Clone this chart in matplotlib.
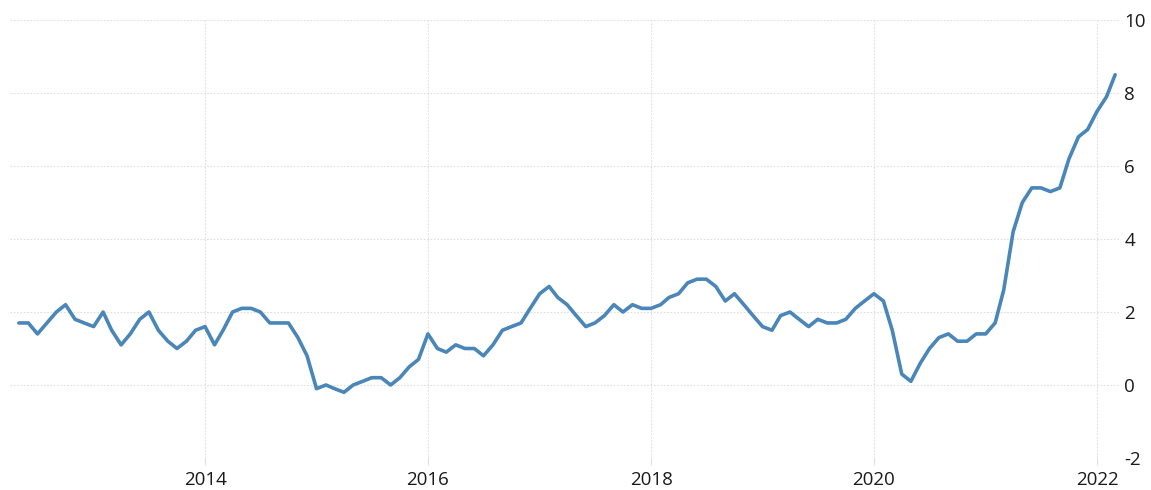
import matplotlib
matplotlib.use("Agg")
import matplotlib.pyplot as plt
import pandas as pd

start_month = "2012-05-01"
values = [
    1.7, 1.7, 1.4, 1.7, 2.0, 2.2, 1.8, 1.7,            # 2012 May-Dec
    1.6, 2.0, 1.5, 1.1, 1.4, 1.8, 2.0, 1.5, 1.2, 1.0, 1.2, 1.5,   # 2013
    1.6, 1.1, 1.5, 2.0, 2.1, 2.1, 2.0, 1.7, 1.7, 1.7, 1.3, 0.8,   # 2014
    -0.1, 0.0, -0.1, -0.2, 0.0, 0.1, 0.2, 0.2, 0.0, 0.2, 0.5, 0.7,  # 2015
    1.4, 1.0, 0.9, 1.1, 1.0, 1.0, 0.8, 1.1, 1.5, 1.6, 1.7, 2.1,   # 2016
    2.5, 2.7, 2.4, 2.2, 1.9, 1.6, 1.7, 1.9, 2.2, 2.0, 2.2, 2.1,   # 2017
    2.1, 2.2, 2.4, 2.5, 2.8, 2.9, 2.9, 2.7, 2.3, 2.5, 2.2, 1.9,   # 2018
    1.6, 1.5, 1.9, 2.0, 1.8, 1.6, 1.8, 1.7, 1.7, 1.8, 2.1, 2.3,   # 2019
    2.5, 2.3, 1.5, 0.3, 0.1, 0.6, 1.0, 1.3, 1.4, 1.2, 1.2, 1.4,   # 2020
    1.4, 1.7, 2.6, 4.2, 5.0, 5.4, 5.4, 5.3, 5.4, 6.2, 6.8, 7.0,   # 2021
    7.5, 7.9, 8.5,                                       # 2022 Jan-Mar
]
dates = pd.date_range(start_month, periods=len(values), freq="MS")
year_ticks = [2014, 2016, 2018, 2020, 2022]
y_ticks = [-2, 0, 2, 4, 6, 8, 10]

plt.rcParams["font.family"] = ["Open Sans", "DejaVu Sans"]

W, H = 1151, 490
fig = plt.figure(figsize=(W / 100, H / 100), dpi=100)
ax = fig.add_axes([10 / W, 1 - 458 / H, (1120 - 10) / W, (458 - 20) / H])

ax.plot(dates, values, color="#4a86b8", linewidth=2.6,
        solid_joinstyle="round", solid_capstyle="round", zorder=3)

ax.set_ylim(-2, 10)
ax.set_xlim(pd.Timestamp("2012-04-02"), pd.Timestamp("2022-03-17"))
ax.set_yticks(y_ticks)
ax.set_yticklabels([str(v) for v in y_ticks])
ax.set_xticks([pd.Timestamp(f"{y}-01-01") for y in year_ticks])
ax.set_xticklabels([str(y) for y in year_ticks])

ax.yaxis.tick_right()
for s in ax.spines.values():
    s.set_visible(False)
ax.grid(True, color="#dedede", linestyle=(0, (1.5, 1.5)), linewidth=0.8, zorder=0)
ax.tick_params(axis="y", length=0, pad=3, labelsize=13.5, labelcolor="#1a1a1a")
ax.tick_params(axis="x", length=5, color="#dedede", pad=4, labelsize=13.5, labelcolor="#1a1a1a")

fig.savefig("out.png", dpi=100, facecolor="white")
